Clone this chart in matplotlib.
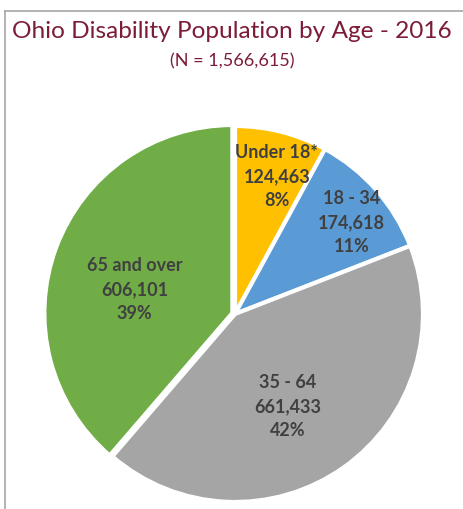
import numpy as np
import matplotlib.pyplot as plt
from matplotlib.lines import Line2D

# Ohio disability population, 2016, by age group
groups = ['Under 18*', '18 - 34', '35 - 64', '65 and over']
counts = [124463, 174618, 661433, 606101]
percents = [8, 11, 42, 39]
total = 1566615

colors = ['#FFC000', '#5B9BD5', '#A5A5A5', '#70AD47']
label_radius = [0.77, 0.79, 0.56, 0.55]
label_shift = [-2.5, -3, -5.5, 6]

W, H = 464, 510
cx, cy, R = 235, 315, 188

fig = plt.figure(figsize=(W / 100, H / 100), dpi=100)
ax = fig.add_axes([0, 0, 1, 1])

wedges, _ = ax.pie(counts, colors=colors, startangle=90, counterclock=False,
                   explode=[0, 0, 0, 0.015],
                   wedgeprops=dict(edgecolor='white', linewidth=3))

for w, name, n, p, r, s in zip(wedges, groups, counts, percents, label_radius, label_shift):
    mid = np.deg2rad((w.theta1 + w.theta2) / 2 + s)
    ax.text(r * np.cos(mid), r * np.sin(mid), f'{name}\n{n:,}\n{p}%',
            ha='center', va='center', fontsize=13, fontweight='bold',
            color='#404040', family='Lato', linespacing=1.5)

# axes span the whole figure, scaled so the pie sits at (cx, cy) with radius R px
ax.set_xlim(-cx / R, (W - cx) / R)
ax.set_ylim(-(H - cy) / R, cy / R)
ax.axis('off')

fig.text(232 / W, 1 - 31 / H, 'Ohio Disability Population by Age - 2016',
         ha='center', va='center', fontsize=17.6, color='#7B1C38', family='Lato')
fig.text(232 / W, 1 - 61 / H, f'(N = {total:,})',
         ha='center', va='center', fontsize=13, color='#7B1C38', family='Lato')

# chart frame (top and left edges)
fig.add_artist(Line2D([5 / W, 1], [1 - 12 / H, 1 - 12 / H], color='#A6A6A6', lw=1.2))
fig.add_artist(Line2D([5 / W, 5 / W], [0, 1 - 12 / H], color='#A6A6A6', lw=1.2))

fig.savefig('out.png', dpi=100)
